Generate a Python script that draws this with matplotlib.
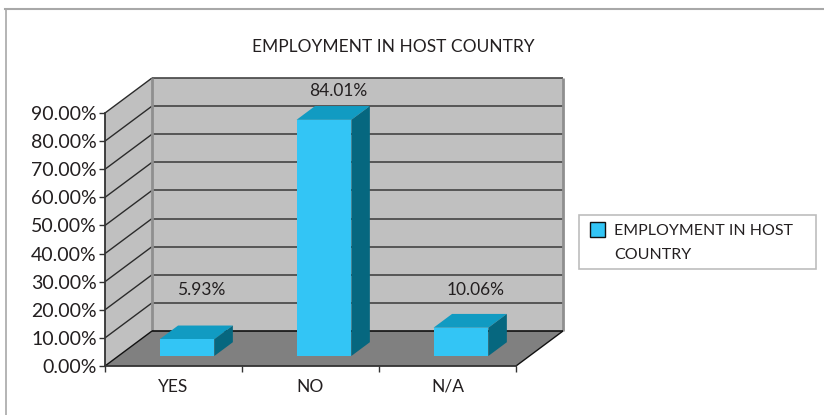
import matplotlib.pyplot as plt
from matplotlib.patches import Polygon, Rectangle
from matplotlib.ticker import FormatStrFormatter

categories = ["YES", "NO", "N/A"]
values = [5.93, 84.01, 10.06]
y_ticks = [0, 10, 20, 30, 40, 50, 60, 70, 80, 90]
series_name = "EMPLOYMENT IN HOST COUNTRY"

W, H = 824, 415

# fake 3d: one unit of depth shifts a point right and up in data units
DEPTH_X = 47 / (411 / 3)
DEPTH_Y = 35 / (253 / 90)

FRONT = "#33c5f5"
TOP = "#119bc2"
SIDE = "#06677f"
WALL = "#c0c0c0"
FLOOR = "#808080"
INK = "#231f20"

plt.rcParams["font.family"] = ["Lato", "DejaVu Sans"]


def box(px_left, px_top, px_right, px_bottom):
    return [px_left / W, 1 - px_bottom / H, (px_right - px_left) / W, (px_bottom - px_top) / H]


def proj(x, y, d=0):
    return (x + d * DEPTH_X, y + d * DEPTH_Y)


fig = plt.figure(figsize=(W / 100, H / 100), dpi=100)
ax = fig.add_axes(box(105, 113, 516, 366))
ax.set_xlim(0, 3)
ax.set_ylim(0, 90)
ax.patch.set_visible(False)


def face(points, color, z=2):
    ax.add_patch(Polygon(points, closed=True, facecolor=color, edgecolor="none", clip_on=False, zorder=z))


def line(p, q, color="#2b2b2b", lw=1.0, z=2.5):
    ax.plot([p[0], q[0]], [p[1], q[1]], color=color, lw=lw, clip_on=False, zorder=z, solid_capstyle="butt")


# walls and floor
face([proj(0, 0), proj(0, 90), proj(0, 90, 1), proj(0, 0, 1)], WALL)
face([proj(0, 0, 1), proj(0, 90, 1), proj(3, 90, 1), proj(3, 0, 1)], WALL)
face([proj(0, 0), proj(3, 0), proj(3, 0, 1), proj(0, 0, 1)], FLOOR)

for t in y_ticks[1:]:
    line(proj(0, t), proj(0, t, 1))
    line(proj(0, t, 1), proj(3, t, 1), color="#444444", lw=1.2)

line(proj(0, 0, 1), proj(0, 90, 1), color="#8f8f8f", lw=2)
line(proj(3, 0, 1), proj(3, 90, 1), color="#8f8f8f", lw=2)
line(proj(0, 0), proj(0, 0, 1), color="#111111")
line(proj(3, 0), proj(3, 0, 1), color="#111111")
line(proj(0, 0, 1), proj(3, 0, 1), color="#111111", lw=1.2)

# bars
bar_w = 0.4
d0, d1 = 0.286, 0.68
label_gap = [36, 15, 24]
for i, v in enumerate(values):
    x0 = i + 0.5 - bar_w / 2
    x1 = x0 + bar_w
    face([proj(x0, v, d0), proj(x1, v, d0), proj(x1, v, d1), proj(x0, v, d1)], TOP, z=3)
    face([proj(x1, 0, d0), proj(x1, v, d0), proj(x1, v, d1), proj(x1, 0, d1)], SIDE, z=3)
    face([proj(x0, 0, d0), proj(x1, 0, d0), proj(x1, v, d0), proj(x0, v, d0)], FRONT, z=4)
    lx, ly = proj(i + 0.5, v, d1)
    ax.annotate(f"{v:.2f}%", (lx, ly), xytext=(-3, label_gap[i] * 0.72), textcoords="offset points",
                ha="center", va="center", fontsize=12.5, color=INK, zorder=5, annotation_clip=False)

# axes
for name in ["top", "right"]:
    ax.spines[name].set_visible(False)
for name in ["left", "bottom"]:
    ax.spines[name].set_color("#333333")
    ax.spines[name].set_linewidth(1.3)
    ax.spines[name].set_zorder(3)

ax.set_yticks(y_ticks)
ax.yaxis.set_major_formatter(FormatStrFormatter("%.2f%%"))
ax.set_xticks(range(4))
ax.set_xticklabels([])
ax.set_xticks([i + 0.5 for i in range(3)], minor=True)
ax.set_xticklabels(categories, minor=True)
ax.tick_params(axis="y", length=4, width=1, color="#333333", labelsize=14, labelcolor=INK, pad=2)
ax.tick_params(axis="x", which="major", length=4, width=1, color="#333333")
ax.tick_params(axis="x", which="minor", length=0, labelsize=12.5, labelcolor=INK, pad=9)

fig.text(393 / W, 1 - 47 / H, series_name, ha="center", va="center", fontsize=12.5, color=INK)

# chart frame, open on the right and at the bottom
fig.add_artist(plt.Line2D([5.5 / W, 5.5 / W], [0, 1 - 9 / H], color="#a8a8a8", lw=1.2))
fig.add_artist(plt.Line2D([5 / W, 1], [1 - 9 / H, 1 - 9 / H], color="#a8a8a8", lw=1.5))

# legend box
fig.add_artist(Rectangle((579 / W, 1 - 269 / H), 237 / W, 54 / H, transform=fig.transFigure,
                         facecolor="white", edgecolor="#bdbdbd", lw=1.2))
fig.add_artist(Rectangle((590 / W, 1 - 237.5 / H), 15 / W, 15 / H, transform=fig.transFigure,
                         facecolor=FRONT, edgecolor="#111111", lw=1))
fig.text(614 / W, 1 - 230.5 / H, "EMPLOYMENT IN HOST", va="center", fontsize=11.5, color=INK)
fig.text(614 / W, 1 - 254.5 / H, "COUNTRY", va="center", fontsize=11.5, color=INK)

fig.savefig("out.png", dpi=100)
